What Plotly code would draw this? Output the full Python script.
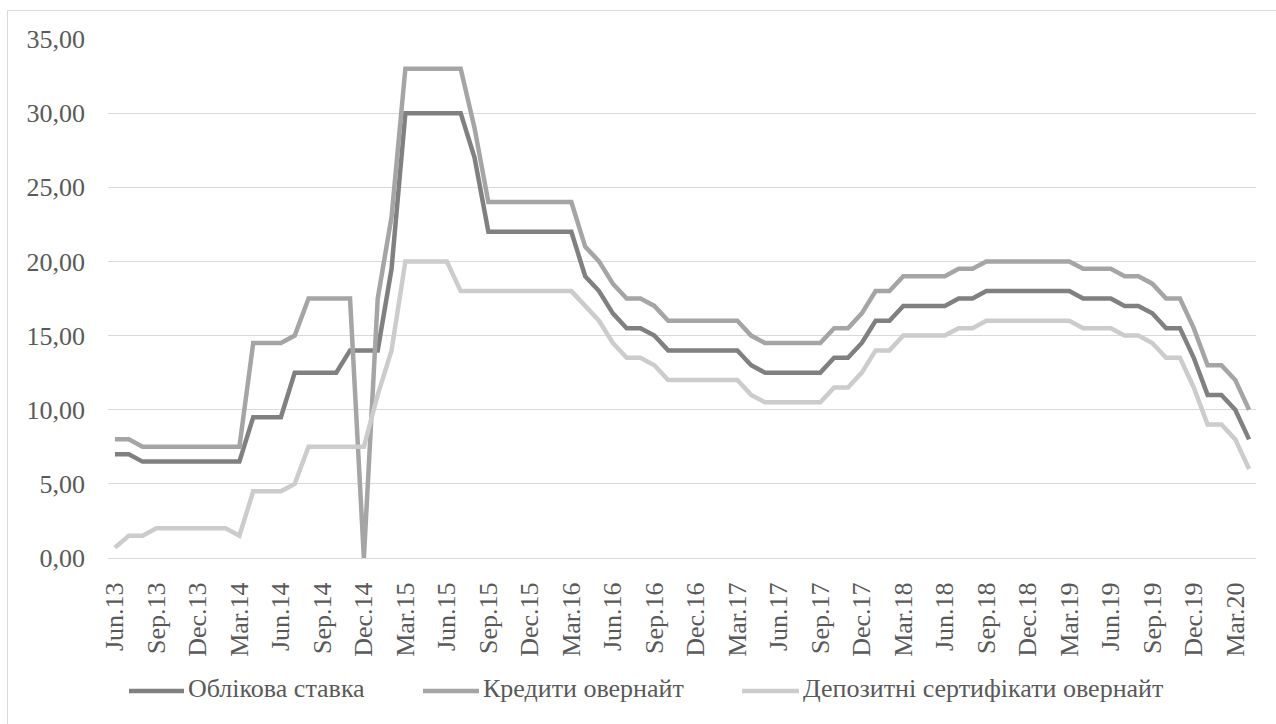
import plotly.graph_objects as go

# Monthly observations, June 2013 – April 2020
months = [
    "Jun.13", "Jul.13", "Aug.13", "Sep.13", "Oct.13", "Nov.13", "Dec.13",
    "Jan.14", "Feb.14", "Mar.14", "Apr.14", "May.14", "Jun.14", "Jul.14", "Aug.14", "Sep.14", "Oct.14", "Nov.14", "Dec.14",
    "Jan.15", "Feb.15", "Mar.15", "Apr.15", "May.15", "Jun.15", "Jul.15", "Aug.15", "Sep.15", "Oct.15", "Nov.15", "Dec.15",
    "Jan.16", "Feb.16", "Mar.16", "Apr.16", "May.16", "Jun.16", "Jul.16", "Aug.16", "Sep.16", "Oct.16", "Nov.16", "Dec.16",
    "Jan.17", "Feb.17", "Mar.17", "Apr.17", "May.17", "Jun.17", "Jul.17", "Aug.17", "Sep.17", "Oct.17", "Nov.17", "Dec.17",
    "Jan.18", "Feb.18", "Mar.18", "Apr.18", "May.18", "Jun.18", "Jul.18", "Aug.18", "Sep.18", "Oct.18", "Nov.18", "Dec.18",
    "Jan.19", "Feb.19", "Mar.19", "Apr.19", "May.19", "Jun.19", "Jul.19", "Aug.19", "Sep.19", "Oct.19", "Nov.19", "Dec.19",
    "Jan.20", "Feb.20", "Mar.20", "Apr.20",
]

# Quarterly axis labels
tick_labels = [
    "Jun.13", "Sep.13", "Dec.13", "Mar.14", "Jun.14", "Sep.14", "Dec.14",
    "Mar.15", "Jun.15", "Sep.15", "Dec.15", "Mar.16", "Jun.16", "Sep.16", "Dec.16",
    "Mar.17", "Jun.17", "Sep.17", "Dec.17", "Mar.18", "Jun.18", "Sep.18", "Dec.18",
    "Mar.19", "Jun.19", "Sep.19", "Dec.19", "Mar.20",
]

# Облікова ставка, %
discount_rate = [
    7.0, 7.0, 6.5, 6.5, 6.5, 6.5, 6.5,
    6.5, 6.5, 6.5, 9.5, 9.5, 9.5, 12.5, 12.5, 12.5, 12.5, 14.0, 14.0,
    14.0, 19.5, 30.0, 30.0, 30.0, 30.0, 30.0, 27.0, 22.0, 22.0, 22.0, 22.0,
    22.0, 22.0, 22.0, 19.0, 18.0, 16.5, 15.5, 15.5, 15.0, 14.0, 14.0, 14.0,
    14.0, 14.0, 14.0, 13.0, 12.5, 12.5, 12.5, 12.5, 12.5, 13.5, 13.5, 14.5,
    16.0, 16.0, 17.0, 17.0, 17.0, 17.0, 17.5, 17.5, 18.0, 18.0, 18.0, 18.0,
    18.0, 18.0, 18.0, 17.5, 17.5, 17.5, 17.0, 17.0, 16.5, 15.5, 15.5, 13.5,
    11.0, 11.0, 10.0, 8.0,
]

# Кредити овернайт, %
overnight_loans = [
    8.0, 8.0, 7.5, 7.5, 7.5, 7.5, 7.5,
    7.5, 7.5, 7.5, 14.5, 14.5, 14.5, 15.0, 17.5, 17.5, 17.5, 17.5, 0.0,
    17.5, 23.0, 33.0, 33.0, 33.0, 33.0, 33.0, 29.0, 24.0, 24.0, 24.0, 24.0,
    24.0, 24.0, 24.0, 21.0, 20.0, 18.5, 17.5, 17.5, 17.0, 16.0, 16.0, 16.0,
    16.0, 16.0, 16.0, 15.0, 14.5, 14.5, 14.5, 14.5, 14.5, 15.5, 15.5, 16.5,
    18.0, 18.0, 19.0, 19.0, 19.0, 19.0, 19.5, 19.5, 20.0, 20.0, 20.0, 20.0,
    20.0, 20.0, 20.0, 19.5, 19.5, 19.5, 19.0, 19.0, 18.5, 17.5, 17.5, 15.5,
    13.0, 13.0, 12.0, 10.0,
]

# Депозитні сертифікати овернайт, %
overnight_deposits = [
    0.7, 1.5, 1.5, 2.0, 2.0, 2.0, 2.0,
    2.0, 2.0, 1.5, 4.5, 4.5, 4.5, 5.0, 7.5, 7.5, 7.5, 7.5, 7.5,
    11.0, 14.0, 20.0, 20.0, 20.0, 20.0, 18.0, 18.0, 18.0, 18.0, 18.0, 18.0,
    18.0, 18.0, 18.0, 17.0, 16.0, 14.5, 13.5, 13.5, 13.0, 12.0, 12.0, 12.0,
    12.0, 12.0, 12.0, 11.0, 10.5, 10.5, 10.5, 10.5, 10.5, 11.5, 11.5, 12.5,
    14.0, 14.0, 15.0, 15.0, 15.0, 15.0, 15.5, 15.5, 16.0, 16.0, 16.0, 16.0,
    16.0, 16.0, 16.0, 15.5, 15.5, 15.5, 15.0, 15.0, 14.5, 13.5, 13.5, 11.5,
    9.0, 9.0, 8.0, 6.0,
]

series_names = ["Облікова ставка", "Кредити овернайт", "Депозитні сертифікати овернайт"]
series_colors = ["#808080", "#a5a5a5", "#cccccc"]
series_values = [discount_rate, overnight_loans, overnight_deposits]

W, H = 1276, 724
M_L, M_R, M_T, M_B = 108, 20, 39, 166
PLOT_W = W - M_L - M_R
PLOT_H = H - M_T - M_B

FONT = "Liberation Serif"
TEXT_COLOR = "#595959"
GRID = "#d9d9d9"


def px_x(px):
    return (px - M_L) / PLOT_W


def px_y(py):
    return (H - M_B - py) / PLOT_H


fig = go.Figure()
for name, color, vals in zip(series_names, series_colors, series_values):
    fig.add_trace(go.Scatter(
        x=months, y=vals, name=name, mode="lines",
        line=dict(color=color, width=4.5),
        showlegend=False,
    ))

n = len(months)
boundary_ticks = [i - 0.5 for i in range(0, n, 3)]

fig.update_layout(
    width=W, height=H,
    margin=dict(l=M_L, r=M_R, t=M_T, b=M_B),
    paper_bgcolor="white", plot_bgcolor="white",
    separators=", ",
    font=dict(family=FONT, size=26, color=TEXT_COLOR),
    xaxis=dict(
        type="category", range=[-0.5, n - 0.5],
        tickmode="array", tickvals=tick_labels, ticktext=tick_labels,
        tickangle=-90, ticks="", ticklabelstandoff=13,
        showgrid=False, zeroline=False,
        showline=True, linecolor=GRID, linewidth=1,
        tickfont=dict(family=FONT, size=26, color=TEXT_COLOR),
    ),
    xaxis2=dict(
        overlaying="x", anchor="y", side="bottom",
        range=[-0.5, n - 0.5], tickmode="array", tickvals=boundary_ticks,
        ticks="outside", ticklen=7, tickwidth=1, tickcolor=GRID,
        showticklabels=False, showgrid=False, zeroline=False, showline=False,
    ),
    yaxis=dict(
        range=[0, 35], tickmode="linear", tick0=0, dtick=5,
        tickformat=".2f", ticks="", ticklabelstandoff=22,
        showgrid=True, gridcolor=GRID, gridwidth=1,
        zeroline=False, showline=False,
        tickfont=dict(family=FONT, size=26, color=TEXT_COLOR),
    ),
)

# Chart frame
fig.add_shape(
    type="rect", xref="paper", yref="paper",
    x0=px_x(7.5), x1=px_x(W + 20), y0=px_y(H + 20), y1=px_y(10.5),
    line=dict(color=GRID, width=1), fillcolor="rgba(0,0,0,0)", layer="below",
)

# Legend row: (line start, line end, text start) in pixels
legend_items = [(129, 184, 186), (423, 479, 481), (742, 799, 801)]
for (lx0, lx1, tx), name, color in zip(legend_items, series_names, series_colors):
    fig.add_shape(
        type="line", xref="paper", yref="paper",
        x0=px_x(lx0), x1=px_x(lx1), y0=px_y(691), y1=px_y(691),
        line=dict(color=color, width=4.5),
    )
    fig.add_annotation(
        xref="paper", yref="paper", x=px_x(tx), y=px_y(688),
        xanchor="left", yanchor="middle", showarrow=False,
        text=name, font=dict(family=FONT, size=26, color=TEXT_COLOR),
    )

fig.write_html("out.html")
